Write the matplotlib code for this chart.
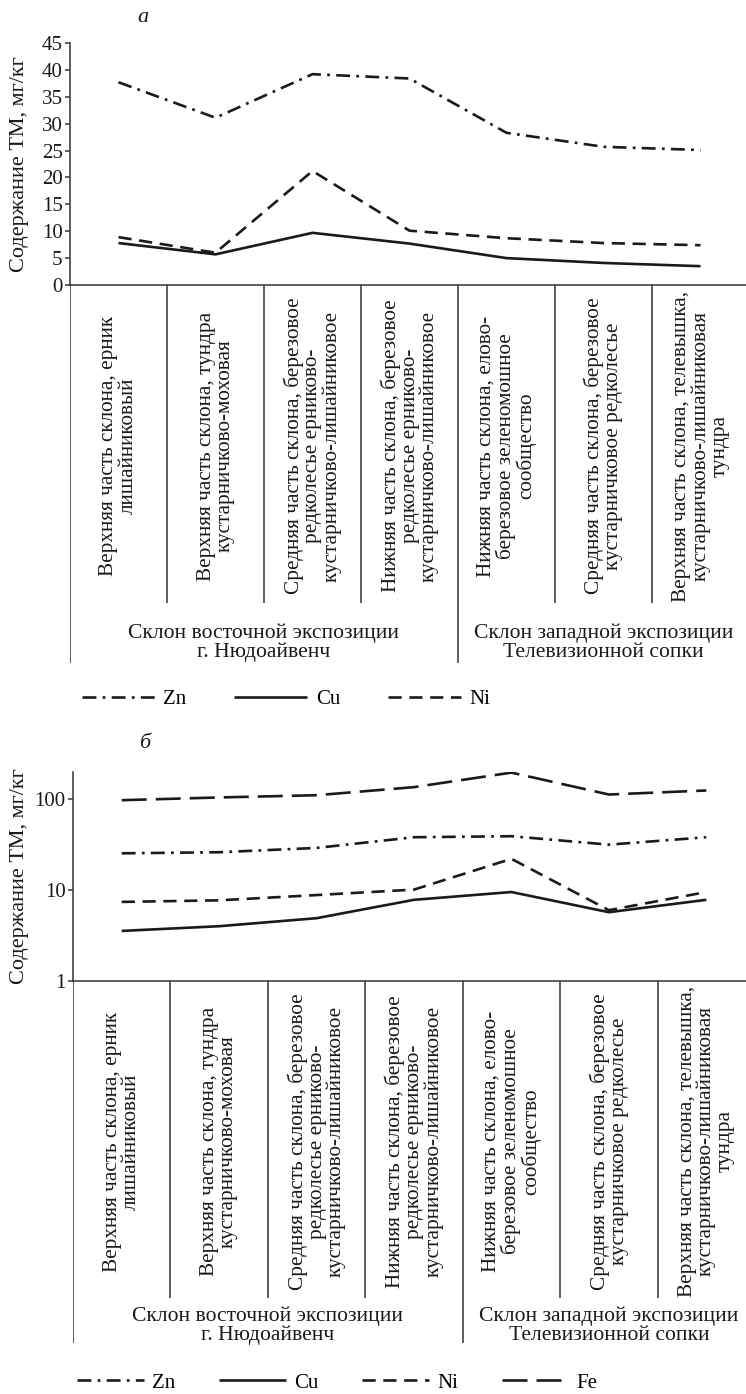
import matplotlib
matplotlib.use("Agg")
import matplotlib.pyplot as plt
import numpy as np

plt.rcParams['font.family'] = ['Liberation Serif', 'DejaVu Serif']
plt.rcParams['lines.scale_dashes'] = False

# ---------------- data ----------------
sites = [
    "Верхняя часть склона, ерник\nлишайниковый",
    "Верхняя часть склона, тундра\nкустарничково-моховая",
    "Средняя часть склона, березовое\nредколесье ерниково-\nкустарничково-лишайниковое",
    "Нижняя часть склона, березовое\nредколесье ерниково-\nкустарничково-лишайниковое",
    "Нижняя часть склона, елово-\nберезовое зеленомошное\nсообщество",
    "Средняя часть склона, березовое\nкустарничковое редколесье",
    "Верхняя часть склона, телевышка,\nкустарничково-лишайниковая\nтундра",
]
groups = ["Склон восточной экспозиции\nг. Нюдоайвенч",
          "Склон западной экспозиции\nТелевизионной сопки"]
group_sizes = [4, 3]

zn_a = [37.7, 31.1, 39.2, 38.4, 28.3, 25.7, 25.1]
cu_a = [7.8, 5.7, 9.7, 7.7, 5.0, 4.1, 3.5]
ni_a = [8.9, 6.0, 21.2, 10.1, 8.7, 7.8, 7.4]

zn_b = [25.3, 26.0, 29.0, 38.0, 39.0, 31.5, 38.0]
cu_b = [3.55, 4.0, 4.9, 7.8, 9.5, 5.7, 7.8]
ni_b = [7.4, 7.7, 8.8, 10.1, 22.0, 6.0, 9.5]
fe_b = [97, 104, 110, 135, 195, 112, 124]

yticks_a = [0, 5, 10, 15, 20, 25, 30, 35, 40, 45]
yticks_b = [1, 10, 100]
ylabel = "Содержание ТМ, мг/кг"

# ---------------- styles ----------------
W, H = 746, 1394
DPI = 100
LC = '#1a1a1a'
LW = 1.9
styles = {
    'Zn': dict(color=LC, lw=LW, linestyle=(0, (10, 4.5, 2, 4.5))),
    'Cu': dict(color=LC, lw=LW, linestyle='-'),
    'Ni': dict(color=LC, lw=LW, linestyle=(0, (9.5, 5.5))),
    'Fe': dict(color=LC, lw=LW, linestyle=(0, (18, 6.5))),
}
FS_TICK = 15
FS_LAB = 16
FS_CAT = 15.3
FS_GRP = 15.6
FS_LEG = 15
SPINE = '#333333'

fig = plt.figure(figsize=(W / DPI, H / DPI), dpi=DPI)


def fx(px):
    return px / W


def fy(py):
    return 1 - py / H


def make_panel(left, right, top, bottom, cat_bottom, grp_bottom, grp_y,
               series, log=False, yticks=None, ylim=None,
               letter=None, letter_xy=None, leg_xy=None, leg_hl=3.5, leg_cs=2.4):
    ax = fig.add_axes([fx(left), fy(bottom), fx(right - left), (bottom - top) / H])
    x = np.arange(len(sites)) + 0.5
    for name, vals in series:
        ax.plot(x, vals, label=name, solid_capstyle='butt', dash_capstyle='butt',
                **styles[name])
    ax.set_xlim(0, len(sites))
    if log:
        ax.set_yscale('log')
    ax.set_ylim(*ylim)
    ax.set_yticks(yticks)
    ax.set_yticklabels([str(t) for t in yticks])
    ax.yaxis.set_minor_locator(matplotlib.ticker.NullLocator())
    ax.set_xticks([])
    for s in ['top', 'right']:
        ax.spines[s].set_visible(False)
    for s in ['left', 'bottom']:
        ax.spines[s].set_color(SPINE)
        ax.spines[s].set_linewidth(1.1)
    ax.tick_params(axis='y', direction='out', length=3.8, width=1.1, color=SPINE,
                   pad=1.5, labelsize=FS_TICK, labelcolor=LC)
    # y label
    fig.text(fx(20), fy((top + bottom) / 2), ylabel, rotation=90, ha='center',
             va='center', fontsize=FS_LAB, color=LC)
    # table below axis
    tab = fig.add_axes([fx(left), fy(grp_bottom), fx(right - left),
                        (grp_bottom - bottom) / H])
    tab.set_xlim(0, len(sites))
    tab.set_ylim(grp_bottom - bottom, 0)
    tab.axis('off')
    cat_h = cat_bottom - bottom
    bounds = np.cumsum([0] + group_sizes)
    for i in range(len(sites) + 1):
        if i in bounds[:-1]:
            tab.vlines(i, 0, grp_bottom - bottom, color=SPINE, lw=1.1)
        elif i < len(sites):
            tab.vlines(i, 0, cat_h, color=SPINE, lw=1.1)
    for i, lab in enumerate(sites):
        tab.text(i + 0.5, cat_h / 2 + 2, lab, rotation=90, ha='center', va='center',
                 multialignment='center', fontsize=FS_CAT, linespacing=1.0,
                 color=LC)
    for g, lab in enumerate(groups):
        cx = (bounds[g] + bounds[g + 1]) / 2
        tab.text(cx, grp_y - bottom, lab, ha='center', va='center',
                 multialignment='center', fontsize=FS_GRP, linespacing=0.98,
                 color=LC)
    # letter
    fig.text(fx(letter_xy[0]), fy(letter_xy[1]), letter, style='italic',
             ha='center', va='center', fontsize=16, color=LC)
    # legend
    handles, labels = ax.get_legend_handles_labels()
    fig.legend(handles, labels, loc='center left',
               bbox_to_anchor=(fx(leg_xy[0]), fy(leg_xy[1])), ncol=len(labels),
               frameon=False, fontsize=FS_LEG, handlelength=leg_hl,
               handletextpad=0.4, columnspacing=leg_cs, borderpad=0,
               borderaxespad=0)
    return ax


make_panel(70, 749, 43, 285, 603, 663, 643,
           [('Zn', zn_a), ('Cu', cu_a), ('Ni', ni_a)],
           log=False, yticks=yticks_a, ylim=(0, 45),
           letter='а', letter_xy=(143, 17), leg_xy=(82, 699), leg_hl=3.5, leg_cs=2.3)

make_panel(73, 755, 771.6, 981, 1298, 1343, 1326,
           [('Zn', zn_b), ('Cu', cu_b), ('Ni', ni_b), ('Fe', fe_b)],
           log=True, yticks=yticks_b, ylim=(1, 200),
           letter='б', letter_xy=(145, 743), leg_xy=(77, 1383), leg_hl=3.2, leg_cs=2.1)

fig.savefig('out.png', dpi=DPI)
